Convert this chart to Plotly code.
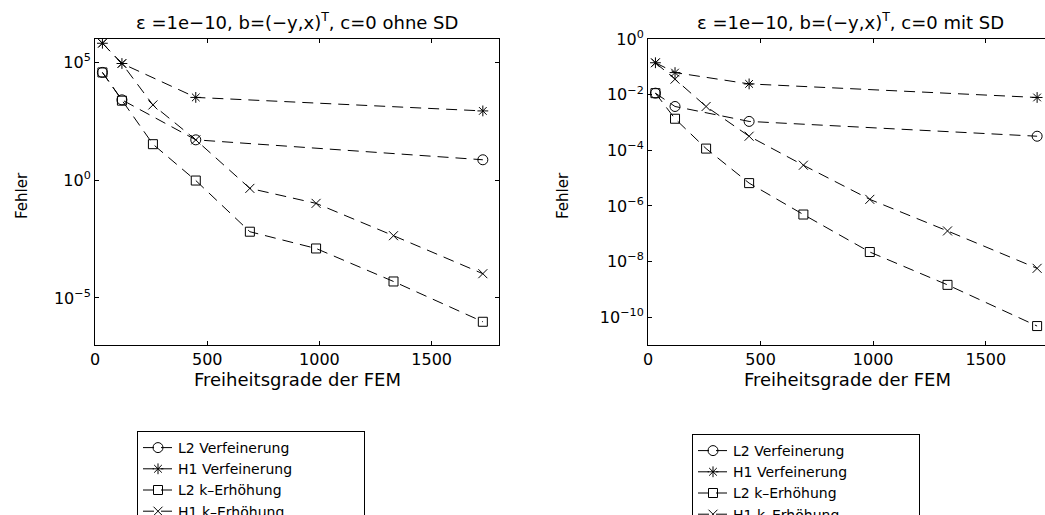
import plotly.graph_objects as go

# Degrees of freedom: mesh refinement (Verfeinerung) and degree increase (k-Erhoehung)
dof_ref = [33, 120, 449, 1728]
dof_k = [33, 120, 258, 449, 690, 985, 1330, 1728]

# Errors without streamline diffusion (ohne SD)
ohne_l2_ref = [3.8e4, 2.6e3, 52, 7.4]
ohne_h1_ref = [6.6e5, 9.1e4, 3.3e3, 880]
ohne_l2_k = [3.8e4, 2.4e3, 34, 0.97, 6.5e-3, 1.26e-3, 5e-5, 9.7e-7]
ohne_h1_k = [6.6e5, 9.1e4, 1.58e3, 52, 0.45, 0.104, 4.4e-3, 1.07e-4]

# Errors with streamline diffusion (mit SD)
mit_l2_ref = [1.13e-2, 3.75e-3, 1.09e-3, 3.2e-4]
mit_h1_ref = [0.14, 0.062, 0.0243, 7.9e-3]
mit_l2_k = [1.13e-2, 1.36e-3, 1.15e-4, 6.6e-6, 4.9e-7, 2.2e-8, 1.45e-9, 4.8e-11]
mit_h1_k = [0.14, 0.036, 3.75e-3, 3.2e-4, 2.9e-5, 1.72e-6, 1.26e-7, 5.7e-9]

names = ["L2 Verfeinerung", "H1 Verfeinerung", "L2 k\u2013Erh\u00f6hung", "H1 k\u2013Erh\u00f6hung"]
symbols = ["circle-open", "asterisk-open", "square-open", "x-thin-open"]
sizes = [10, 9, 9, 9]

titles = ["\u03b5 =1e\u221210, b=(\u2212y,x)<sup>T</sup>, c=0 ohne SD",
          "\u03b5 =1e\u221210, b=(\u2212y,x)<sup>T</sup>, c=0 mit SD"]

left_ticks = [1e5, 1, 1e-5]
left_ticktext = ["10<sup>5</sup>", "10<sup>0</sup>", "10<sup>\u22125</sup>"]
right_ticks = [1, 1e-2, 1e-4, 1e-6, 1e-8, 1e-10]
right_ticktext = ["10<sup>0</sup>", "10<sup>\u22122</sup>", "10<sup>\u22124</sup>",
                  "10<sup>\u22126</sup>", "10<sup>\u22128</sup>", "10<sup>\u221210</sup>"]
x_ticks = [0, 500, 1000, 1500]

W, H = 1045, 515
FONT = "DejaVu Sans"
PAD = "\u00a0" * 15  # widens the legend box

fig = go.Figure()

panels = [
    ("x", "y", "legend", [ohne_l2_ref, ohne_h1_ref, ohne_l2_k, ohne_h1_k]),
    ("x2", "y2", "legend2", [mit_l2_ref, mit_h1_ref, mit_l2_k, mit_h1_k]),
]
for xa, ya, leg, series in panels:
    for i, ys in enumerate(series):
        xs = dof_ref if i < 2 else dof_k
        fig.add_trace(go.Scatter(
            x=xs, y=ys, name=names[i] + PAD, mode="lines+markers",
            xaxis=xa, yaxis=ya, legend=leg,
            line=dict(color="black", width=1, dash="11px,7px"),
            marker=dict(symbol=symbols[i], size=sizes[i], color="black",
                        line=dict(color="black", width=1)),
        ))


def px_x(p):
    return p / W


def px_y(p):
    return 1 - p / H


axis_common = dict(
    showgrid=False, zeroline=False, showline=True, linecolor="black",
    linewidth=1, ticks="inside", ticklen=4, tickcolor="black", tickwidth=1,
    tickfont=dict(family=FONT, size=16, color="black"),
)

ydom = [px_y(345), px_y(39)]

legend_common = dict(xanchor="left", yanchor="top", bordercolor="black",
                     borderwidth=1, bgcolor="white", tracegroupgap=0,
                     font=dict(family=FONT, size=14, color="black"))

fig.update_layout(
    width=W, height=H,
    margin=dict(l=0, r=0, t=0, b=0, autoexpand=False),
    paper_bgcolor="white", plot_bgcolor="white",
    font=dict(family=FONT, color="black"),
    xaxis=dict(domain=[px_x(95), px_x(499)], range=[0, 1800], tickvals=x_ticks,
               mirror="ticks", anchor="y", **axis_common),
    yaxis=dict(domain=ydom, type="log", range=[-7, 6], tickvals=left_ticks,
               ticktext=left_ticktext, mirror="ticks", anchor="x", **axis_common),
    xaxis2=dict(domain=[px_x(648), 1.0], range=[0, 1763], tickvals=x_ticks,
                mirror="ticks", anchor="y2", **axis_common),
    yaxis2=dict(domain=ydom, type="log", range=[-11, 0], tickvals=right_ticks,
                ticktext=right_ticktext, mirror=False, anchor="x2", **axis_common),
    legend=dict(x=px_x(137), y=px_y(431), **legend_common),
    legend2=dict(x=px_x(692), y=px_y(434), **legend_common),
    showlegend=True,
)

annotations = []
# panel titles
for cx, t in [(297, titles[0]), (850, titles[1])]:
    annotations.append(dict(text=t, x=px_x(cx), y=px_y(21), xref="paper", yref="paper",
                            xanchor="center", yanchor="middle", showarrow=False,
                            font=dict(family=FONT, size=18, color="black")))
# x axis titles
for cx in [297, 847]:
    annotations.append(dict(text="Freiheitsgrade der FEM", x=px_x(cx), y=px_y(379),
                            xref="paper", yref="paper", xanchor="center",
                            yanchor="middle", showarrow=False,
                            font=dict(family=FONT, size=18, color="black")))
# y axis titles
for cx in [22, 563]:
    annotations.append(dict(text="Fehler", x=px_x(cx), y=px_y(196), xref="paper",
                            yref="paper", xanchor="center", yanchor="middle",
                            showarrow=False, textangle=-90,
                            font=dict(family=FONT, size=15, color="black")))
fig.update_layout(annotations=annotations)

fig.write_html("out.html")
